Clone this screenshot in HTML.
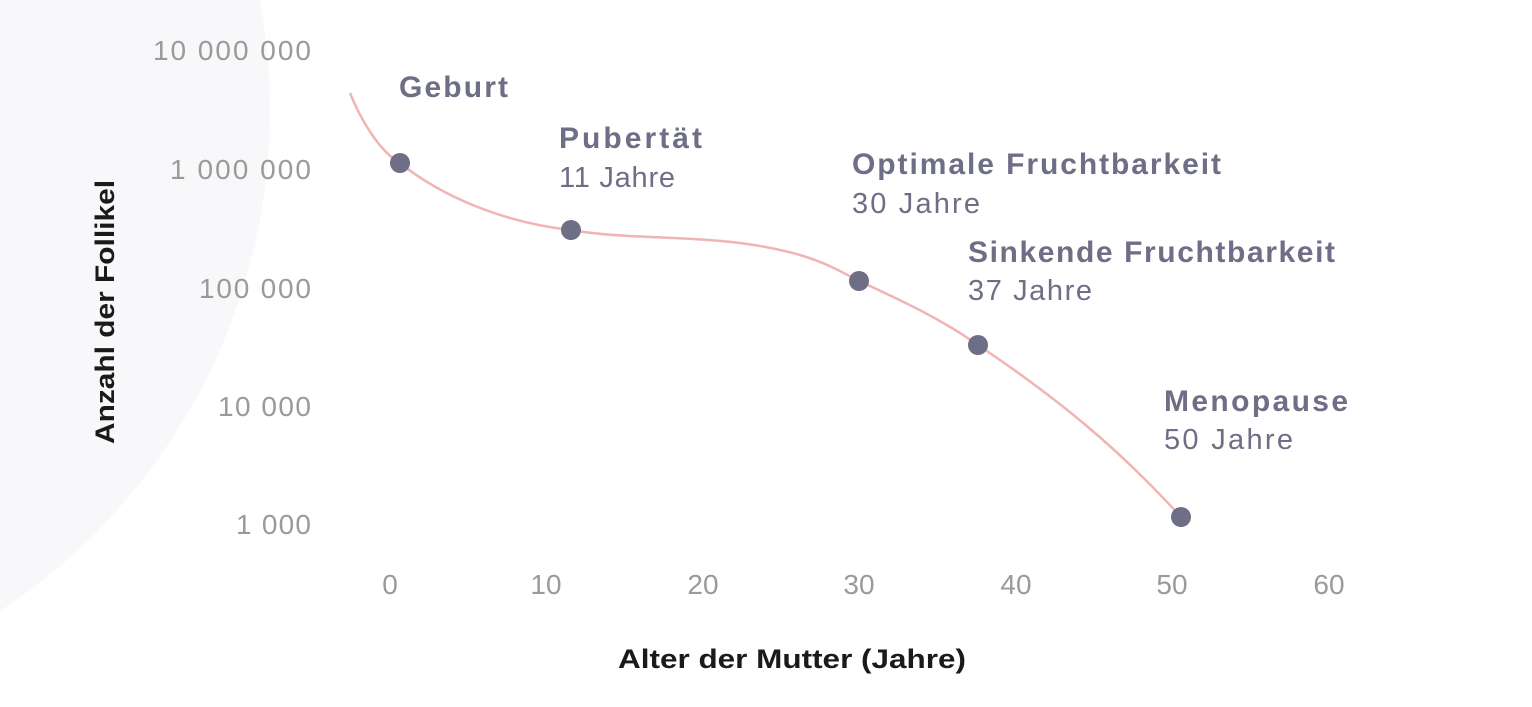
<!DOCTYPE html>
<html><head><meta charset="utf-8"><style>
html,body{margin:0;padding:0;background:#fff;}
svg{display:block}
text{font-family:"Liberation Sans",sans-serif}
</style></head><body>
<svg width="1532" height="707" viewBox="0 0 1532 707">
<circle cx="-330" cy="110" r="600" fill="#f8f8fa"/>
<g fill="#9a9a9a" font-size="28" lengthAdjust="spacingAndGlyphs">
<text x="153" y="60" textLength="158">10 000 000</text>
<text x="170" y="179" textLength="141">1 000 000</text>
<text x="199" y="298" textLength="112">100 000</text>
<text x="218" y="416" textLength="93">10 000</text>
<text x="236" y="534" textLength="75">1 000</text>
</g>
<g fill="#9a9a9a" font-size="28" text-anchor="middle">
<text x="390" y="594">0</text>
<text x="546" y="594">10</text>
<text x="703" y="594">20</text>
<text x="859" y="594">30</text>
<text x="1016" y="594">40</text>
<text x="1172" y="594">50</text>
<text x="1329" y="594">60</text>
</g>
<text x="618" y="668" font-size="27" font-weight="bold" fill="#1a1a1a" textLength="348" lengthAdjust="spacingAndGlyphs">Alter der Mutter (Jahre)</text>
<text transform="translate(114,444) rotate(-90)" font-size="27" font-weight="bold" fill="#1a1a1a" textLength="264" lengthAdjust="spacingAndGlyphs">Anzahl der Follikel</text>
<path d="M350,93 C365,130 385,155 400,163 C440,195 500,222 571,230 C640,242 720,232 800,255 C830,264 845,274 859,281 C900,300 940,318 978,345 C1060,400 1120,450 1181,517" fill="none" stroke="#f0b4b4" stroke-width="2.5"/>
<g fill="#6e6e86">
<circle cx="400" cy="163" r="10"/>
<circle cx="571" cy="230" r="10"/>
<circle cx="859" cy="281" r="10"/>
<circle cx="978" cy="345" r="10"/>
<circle cx="1181" cy="517" r="10"/>
</g>
<g fill="#6e6e86" font-size="30" font-weight="bold" lengthAdjust="spacingAndGlyphs">
<text x="399" y="97" textLength="109">Geburt</text>
<text x="559" y="148" textLength="143">Pubertät</text>
<text x="852" y="174" textLength="369">Optimale Fruchtbarkeit</text>
<text x="968" y="262" textLength="367">Sinkende Fruchtbarkeit</text>
<text x="1164" y="411" textLength="184">Menopause</text>
</g>
<g fill="#6e6e86" font-size="29" lengthAdjust="spacingAndGlyphs">
<text x="559" y="187" textLength="116">11 Jahre</text>
<text x="852" y="213" textLength="128">30 Jahre</text>
<text x="968" y="300" textLength="124">37 Jahre</text>
<text x="1164" y="449" textLength="129">50 Jahre</text>
</g>
</svg>
</body></html>
